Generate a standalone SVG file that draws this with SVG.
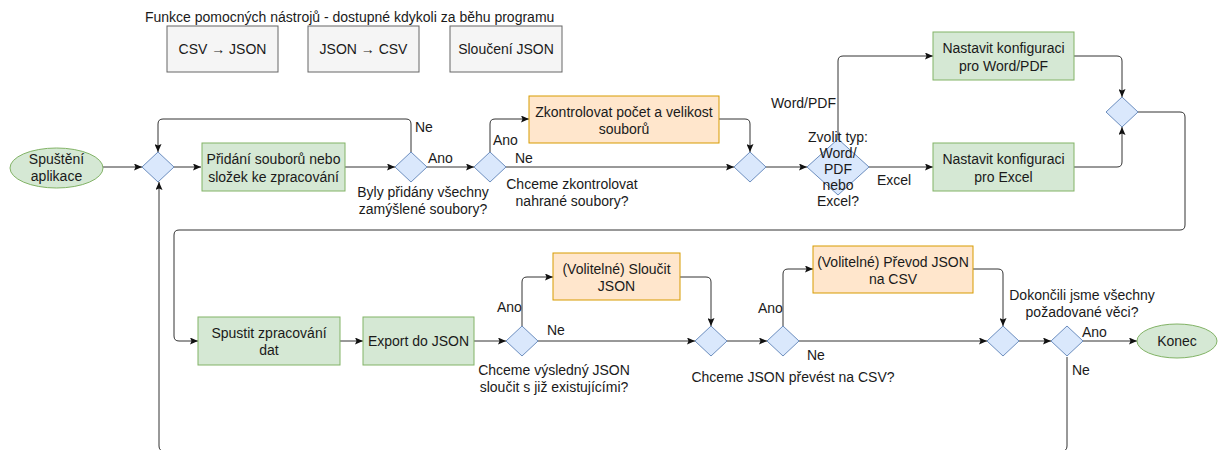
<svg xmlns="http://www.w3.org/2000/svg" width="1226" height="450" viewBox="0 0 1226 450">
<defs>
<style>
text{font-family:"Liberation Sans",Arial,sans-serif;font-size:14px;fill:#1a1a1a}
.c{text-anchor:middle}
.e{text-anchor:end}
.tool{fill:#f5f5f5;stroke:#666666;stroke-width:1}
.green{fill:#d5e8d4;stroke:#82b366;stroke-width:1}
.orange{fill:#ffe6cc;stroke:#d79b00;stroke-width:1}
.dia{fill:#dae8fc;stroke:#6c8ebf;stroke-width:1}
.edge{fill:none;stroke:#333333;stroke-width:1;marker-end:url(#arr)}
.line{fill:none;stroke:#333333;stroke-width:1}
</style>
<marker id="arr" viewBox="0 0 8 7" refX="8" refY="3.5" markerWidth="8" markerHeight="7" markerUnits="userSpaceOnUse" orient="auto">
<path d="M0,0 L8,3.5 L0,7 L1.5,3.5 z" fill="#111111"/>
</marker>
</defs>

<text id="title" x="145" y="22">Funkce pomocných nástrojů - dostupné kdykoli za běhu programu</text>
<g id="tool-csv-json"><rect class="tool" x="167" y="26" width="111" height="46"/><text class="c" x="222.5" y="54">CSV → JSON</text></g>
<g id="tool-json-csv"><rect class="tool" x="308" y="26" width="111" height="46"/><text class="c" x="363.5" y="54">JSON → CSV</text></g>
<g id="tool-merge"><rect class="tool" x="450" y="26" width="112" height="46"/><text class="c" x="506" y="54">Sloučení JSON</text></g>

<g id="connectors">
<path class="edge" d="M103,167 H142"/>
<path class="edge" d="M174,167 H201"/>
<path class="edge" d="M345,167 H395"/>
<path class="edge" d="M411,152 V124 Q411,119 406,119 H163 Q158,119 158,124 V152"/>
<path class="edge" d="M427,167 H474"/>
<path class="edge" d="M490,152 V124 Q490,119 495,119 H529"/>
<path class="edge" d="M506,167 H734"/>
<path class="edge" d="M719,119 H745 Q750,119 750,124 V152"/>
<path class="edge" d="M766,167 H807"/>
<path class="edge" d="M838,139 V61 Q838,56 843,56 H933"/>
<path class="edge" d="M869,167 H933"/>
<path class="edge" d="M1074,56 H1117 Q1122,56 1122,61 V97"/>
<path class="edge" d="M1074,167 H1117 Q1122,167 1122,162 V127"/>
<path class="edge" d="M1138,112 H1180 Q1185,112 1185,117 V225 Q1185,230 1180,230 H179 Q174,230 174,235 V336 Q174,341 179,341 H198"/>
<path class="edge" d="M340,341 H363"/>
<path class="edge" d="M474,341 H506"/>
<path class="edge" d="M522,326 V282 Q522,277 527,277 H553"/>
<path class="edge" d="M538,341 H695"/>
<path class="edge" d="M680,277 H706 Q711,277 711,282 V326"/>
<path class="edge" d="M727,341 H767"/>
<path class="edge" d="M783,326 V274 Q783,269 788,269 H813"/>
<path class="edge" d="M799,341 H987"/>
<path class="edge" d="M973,269 H998 Q1003,269 1003,274 V326"/>
<path class="edge" d="M1019,341 H1051"/>
<path class="edge" d="M1083,341 H1137"/>
<path class="edge" d="M1067,357 V446 Q1067,451 1062,451 H164 Q159,451 159,446 V182"/>
</g>

<g id="edge-labels">
<text x="415" y="132">Ne</text>
<text x="428" y="163">Ano</text>
<text class="c" x="423" y="197">Byly přidány všechny</text>
<text class="c" x="423" y="214">zamýšlené soubory?</text>
<text x="493" y="145">Ano</text>
<text x="515" y="163">Ne</text>
<text class="c" x="572" y="189">Chceme zkontrolovat</text>
<text class="c" x="572" y="206">nahrané soubory?</text>
<text class="e" x="836" y="108">Word/PDF</text>
<text x="877" y="185">Excel</text>
<text x="497" y="312">Ano</text>
<text x="547" y="335">Ne</text>
<text class="c" x="554" y="375">Chceme výsledný JSON</text>
<text class="c" x="554" y="392">sloučit s již existujícími?</text>
<text x="758" y="313">Ano</text>
<text x="807" y="360">Ne</text>
<text class="c" x="793" y="382">Chceme JSON převést na CSV?</text>
<text class="c" x="1082" y="300">Dokončili jsme všechny</text>
<text class="c" x="1082" y="317">požadované věci?</text>
<text x="1082" y="337">Ano</text>
<text x="1072" y="375">Ne</text>
</g>

<g id="start"><ellipse class="green" cx="56.5" cy="168" rx="46.5" ry="20"/><text class="c" x="56.5" y="164">Spuštění</text><text class="c" x="56.5" y="181">aplikace</text></g>
<g id="d1"><polygon class="dia" points="158,152 174,167 158,182 142,167"/></g>
<g id="add-files"><rect class="green" x="202" y="143" width="143" height="48"/><text class="c" x="273.5" y="164">Přidání souborů nebo</text><text class="c" x="273.5" y="182">složek ke zpracování</text></g>
<g id="d2"><polygon class="dia" points="411,152 427,167 411,182 395,167"/></g>
<g id="d3"><polygon class="dia" points="490,152 506,167 490,182 474,167"/></g>
<g id="check"><rect class="orange" x="529" y="96" width="190" height="47"/><text class="c" x="624" y="117">Zkontrolovat počet a velikost</text><text class="c" x="624" y="134">souborů</text></g>
<g id="d4"><polygon class="dia" points="750,152 766,167 750,182 734,167"/></g>
<g id="choose"><polygon class="dia" points="838,139 869,167 838,195 807,167"/><text class="c" x="838" y="142">Zvolit typ:</text><text class="c" x="838" y="158">Word/</text><text class="c" x="838" y="174">PDF</text><text class="c" x="838" y="190">nebo</text><text class="c" x="838" y="206">Excel?</text></g>
<g id="cfg-word"><rect class="green" x="933" y="32" width="141" height="48"/><text class="c" x="1003.5" y="53">Nastavit konfiguraci</text><text class="c" x="1003.5" y="71">pro Word/PDF</text></g>
<g id="cfg-excel"><rect class="green" x="933" y="143" width="141" height="48"/><text class="c" x="1003.5" y="164">Nastavit konfiguraci</text><text class="c" x="1003.5" y="182">pro Excel</text></g>
<g id="d5"><polygon class="dia" points="1122,97 1138,112 1122,127 1106,112"/></g>
<g id="process"><rect class="green" x="198" y="317" width="142" height="48"/><text class="c" x="269" y="338">Spustit zpracování</text><text class="c" x="269" y="355">dat</text></g>
<g id="export"><rect class="green" x="363" y="317" width="111" height="48"/><text class="c" x="418.5" y="346">Export do JSON</text></g>
<g id="d6"><polygon class="dia" points="522,326 538,341 522,356 506,341"/></g>
<g id="merge"><rect class="orange" x="553" y="253" width="127" height="47"/><text class="c" x="616.5" y="274">(Volitelné) Sloučit</text><text class="c" x="616.5" y="291">JSON</text></g>
<g id="d7"><polygon class="dia" points="711,326 727,341 711,356 695,341"/></g>
<g id="d8"><polygon class="dia" points="783,326 799,341 783,356 767,341"/></g>
<g id="convert"><rect class="orange" x="813" y="246" width="160" height="47"/><text class="c" x="893" y="267">(Volitelné) Převod JSON</text><text class="c" x="893" y="284">na CSV</text></g>
<g id="d9"><polygon class="dia" points="1003,326 1019,341 1003,356 987,341"/></g>
<g id="d10"><polygon class="dia" points="1067,326 1083,341 1067,356 1051,341"/></g>
<g id="end"><ellipse class="green" cx="1177" cy="341" rx="40" ry="17"/><text class="c" x="1177" y="346">Konec</text></g>
</svg>
